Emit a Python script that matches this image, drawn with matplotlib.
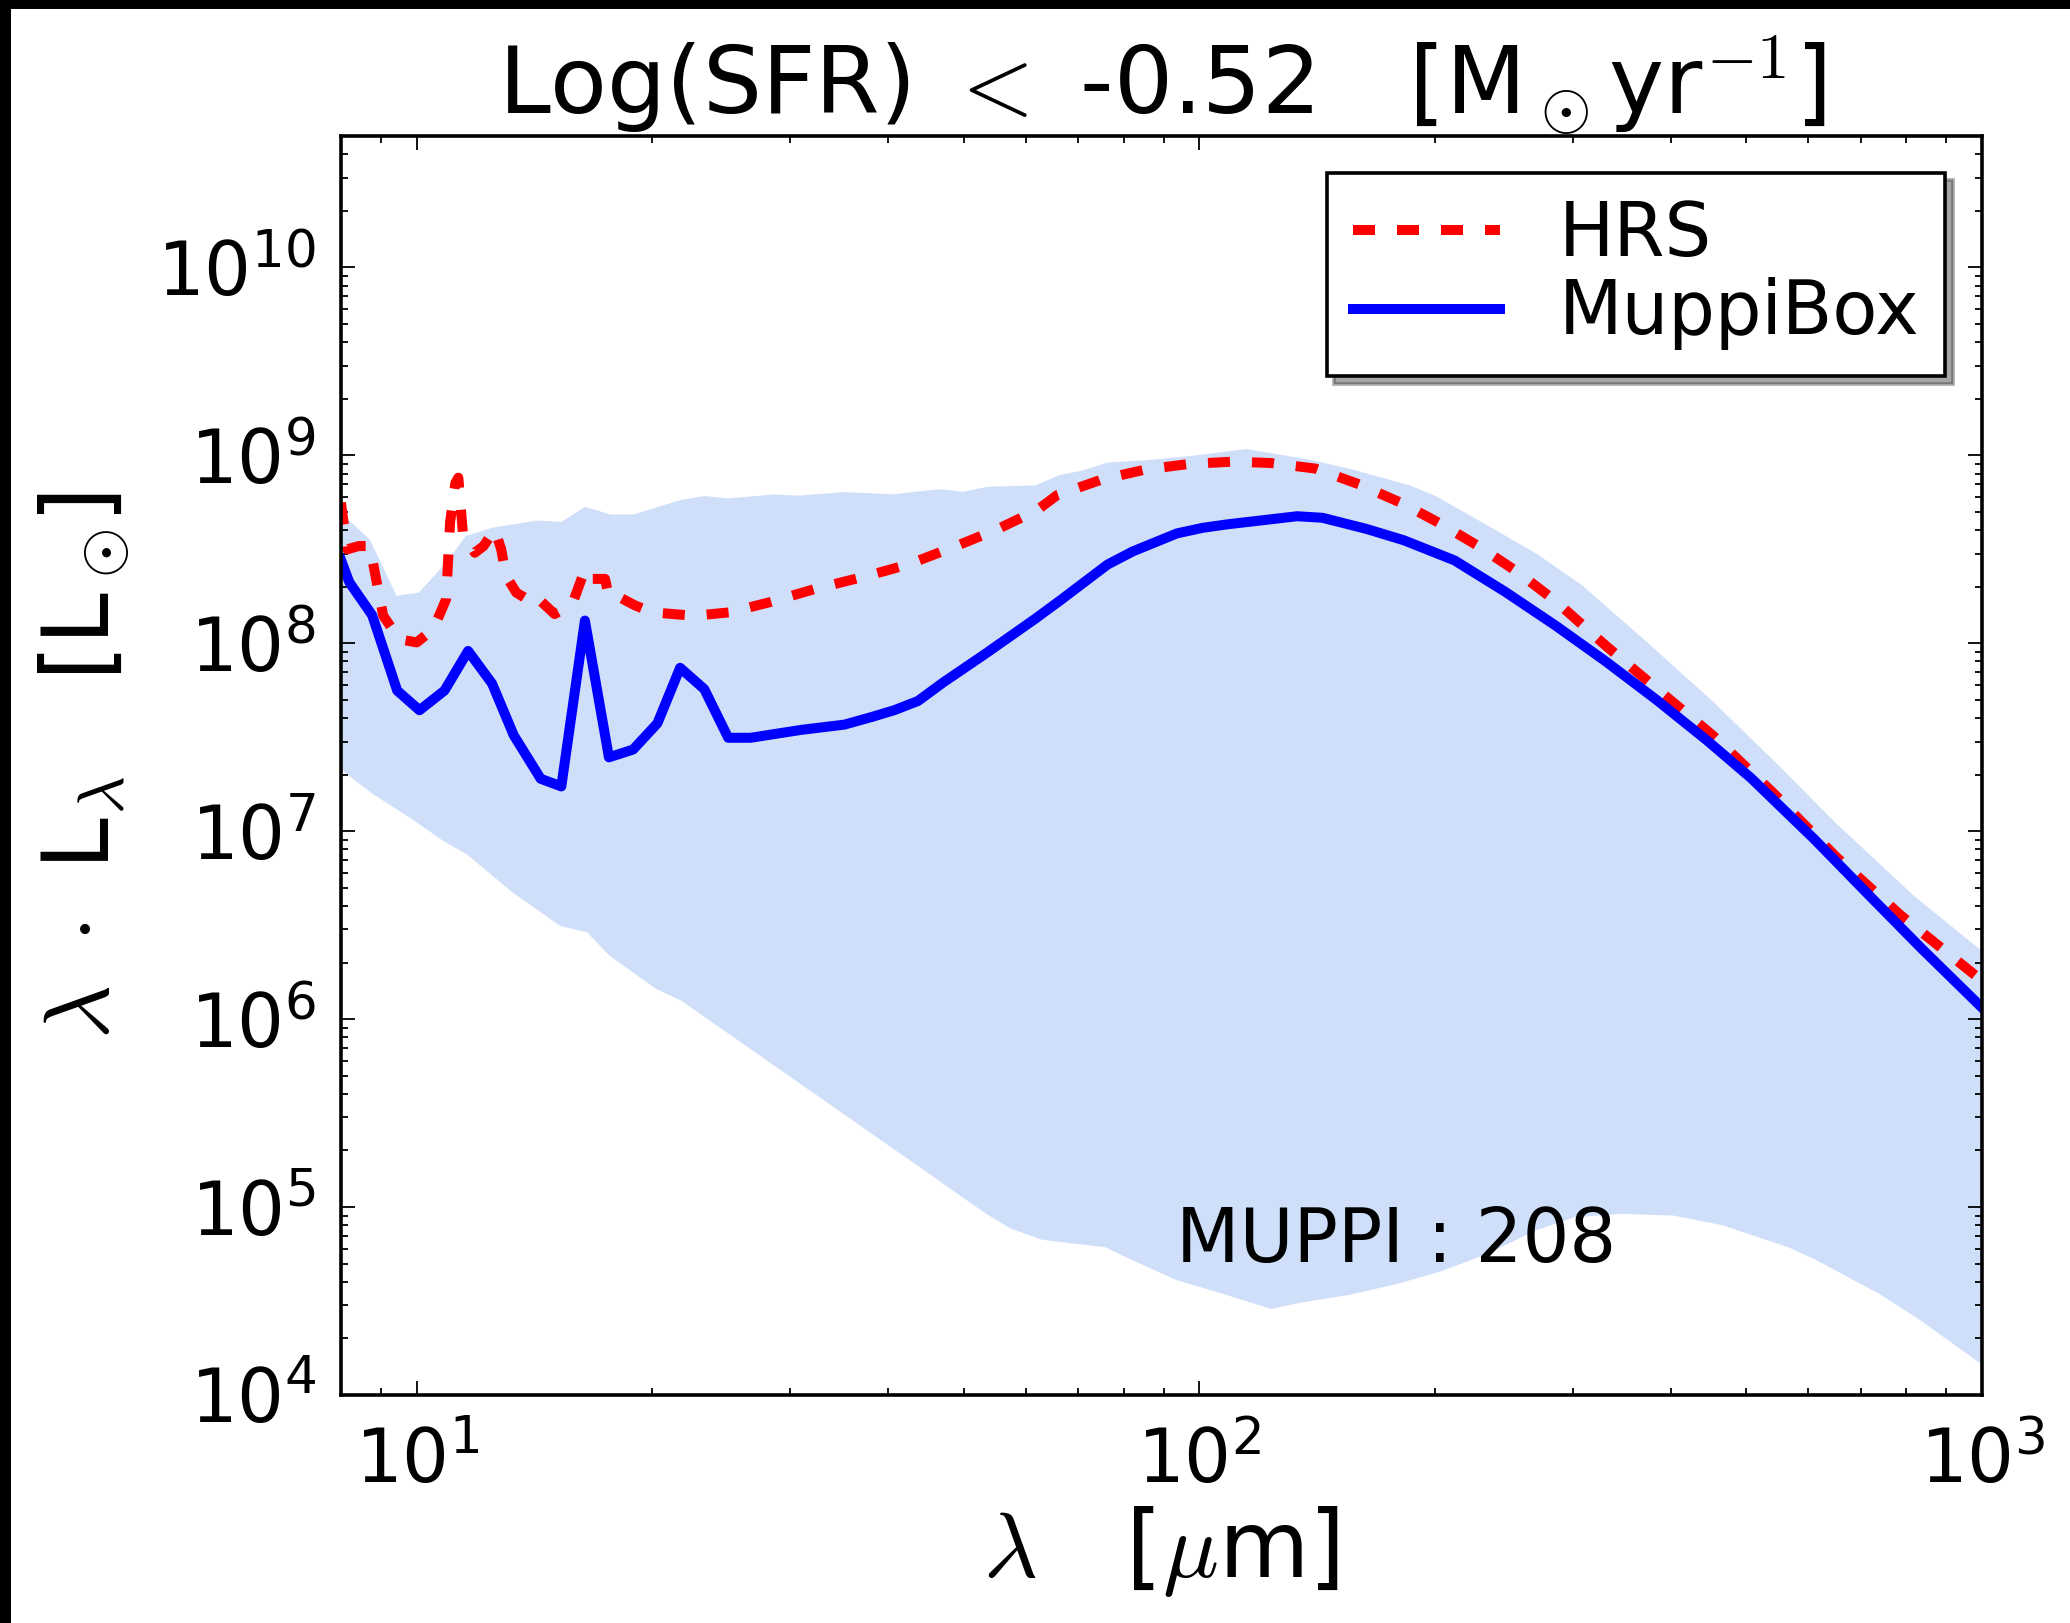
import numpy as np
import matplotlib
matplotlib.use('Agg')
import matplotlib.pyplot as plt
from matplotlib.patches import Rectangle

plt.rcParams['mathtext.fontset'] = 'cm'
plt.rcParams['font.family'] = 'DejaVu Sans'

# HRS mean SED
lam_hrs = [8.0, 8.15, 8.43, 8.71, 8.89, 9.06, 9.5, 10.0, 10.5, 10.9, 11.03, 11.2, 11.3,
           11.45, 11.86, 12.17, 12.58, 12.82, 13.0, 13.4, 13.95, 14.2, 15.0, 15.8, 16.4,
           16.7, 17.4, 17.6, 18.05, 19.0, 20.0, 22.6, 25.1, 28.2, 32.2, 37.6, 42.4, 48.9,
           55.1, 62.0, 65.8, 75.0, 85.2, 97.1, 110.4, 123.3, 140.6, 160.1, 182.5, 204,
           228, 254.7, 285, 330.6, 383.7, 453, 542.5, 651, 787, 1000]
L_hrs = [5.6e8, 3.16e8, 3.29e8, 3.29e8, 2.1e8, 1.4e8, 1.05e8, 1.01e8, 1.19e8, 1.71e8,
         4.4e8, 7.1e8, 7.6e8, 3.9e8, 3.03e8, 3.29e8, 4.03e8, 3.16e8, 2.29e8, 1.86e8,
         1.68e8, 1.77e8, 1.43e8, 1.61e8, 2.47e8, 2.2e8, 2.2e8, 1.77e8, 1.78e8, 1.59e8,
         1.46e8, 1.4e8, 1.46e8, 1.65e8, 1.94e8, 2.28e8, 2.62e8, 3.29e8, 4.03e8, 5.1e8,
         6.14e8, 7.43e8, 8.39e8, 9.0e8, 9.25e8, 9.1e8, 8.5e8, 7.0e8, 5.5e8, 4.29e8,
         3.26e8, 2.4e8, 1.68e8, 9.7e7, 5.75e7, 3.23e7, 1.58e7, 7.3e6, 3.57e6, 1.6e6]

# MuppiBox median SED
lam_mb = [8.0, 8.2, 8.77, 9.44, 10.08, 10.85, 11.63, 12.48, 13.3, 14.4, 15.3, 16.4, 17.6,
          18.9, 20.3, 21.7, 23.3, 25.0, 26.7, 31.0, 35.2, 38.2, 40.8, 43.7, 47.1, 53.3,
          61.7, 66.4, 76.3, 82.2, 93.6, 100.9, 108.5, 133.3, 143.6, 163.4, 182.5, 211.8,
          245.8, 285.3, 330.6, 383.7, 444.8, 506.6, 609.9, 721, 836.5, 1000]
L_mb = [2.78e8, 2.11e8, 1.41e8, 5.6e7, 4.4e7, 5.6e7, 9.1e7, 6.1e7, 3.24e7, 1.9e7, 1.73e7,
        1.32e8, 2.47e7, 2.72e7, 3.75e7, 7.4e7, 5.7e7, 3.14e7, 3.14e7, 3.46e7, 3.69e7,
        4.06e7, 4.41e7, 4.93e7, 6.2e7, 8.8e7, 1.35e8, 1.69e8, 2.62e8, 3.08e8, 3.84e8,
        4.11e8, 4.29e8, 4.74e8, 4.65e8, 4.06e8, 3.53e8, 2.76e8, 1.88e8, 1.24e8, 8.0e7,
        5.0e7, 3.05e7, 1.92e7, 9.1e6, 4.46e6, 2.38e6, 1.15e6]

# MuppiBox spread (upper / lower envelope)
lam_up = [8.0, 8.71, 9.42, 10.06, 10.9, 11.55, 12.5, 14.25, 15.3, 16.4, 17.7, 18.9, 21.7,
          23.3, 25.0, 28.6, 30.7, 35.2, 40.7, 44.1, 46.8, 49.9, 53.6, 61.7, 66.4, 70.9,
          76.3, 85.2, 97.1, 114.7, 138, 157, 186, 200, 228, 269.5, 308, 369.7, 453, 552,
          651, 820, 1000]
L_up = [4.94e8, 3.56e8, 1.79e8, 1.86e8, 2.68e8, 3.72e8, 4.12e8, 4.5e8, 4.42e8, 5.32e8,
        4.84e8, 4.84e8, 5.77e8, 6.07e8, 5.9e8, 6.19e8, 6.1e8, 6.37e8, 6.2e8, 6.45e8,
        6.6e8, 6.4e8, 6.8e8, 6.92e8, 7.86e8, 8.3e8, 9.15e8, 9.4e8, 9.9e8, 1.08e9, 9.5e8,
        8.4e8, 6.9e8, 6.1e8, 4.48e8, 3.0e8, 2.04e8, 1.05e8, 4.9e7, 2.2e7, 1.1e7,
        4.5e6, 2.3e6]
lam_lo = [8.0, 8.78, 9.83, 10.8, 11.6, 13.27, 15.27, 16.5, 17.6, 20.2, 21.8, 27.0, 35.2,
          37.9, 45.7, 53.1, 57.3, 62.9, 75.9, 81.8, 93.3, 108.4, 123.4, 134.8, 155, 179,
          202, 232.6, 269, 301, 345, 404, 466, 566, 615, 740, 835, 1000]
L_lo = [2.13e7, 1.58e7, 1.17e7, 8.9e6, 7.5e6, 4.7e6, 3.12e6, 2.9e6, 2.19e6, 1.45e6,
        1.25e6, 6.7e5, 3.1e5, 2.5e5, 1.45e5, 9.35e4, 7.7e4, 6.7e4, 6.1e4, 5.25e4, 4.1e4,
        3.4e4, 2.87e4, 3.1e4, 3.4e4, 3.9e4, 4.5e4, 5.6e4, 7.5e4, 8.8e4, 9.2e4, 9.0e4,
        8.0e4, 6.1e4, 5.2e4, 3.44e4, 2.49e4, 1.45e4]

n_muppi = 208

fig = plt.figure(figsize=(20.7, 16.23), dpi=100)
ax = fig.add_axes([0.1647, 0.1405, 0.7928, 0.7757])

# shaded spread
ax.fill(np.concatenate([lam_up, lam_lo[::-1]]), np.concatenate([L_up, L_lo[::-1]]),
        color='cornflowerblue', alpha=0.3, lw=0)

ax.plot(lam_hrs, L_hrs, 'r--', lw=7.2, dashes=(2.2, 2.2), label='HRS')
ax.plot(lam_mb, L_mb, 'b-', lw=7.2, label='MuppiBox')

ax.set_xscale('log')
ax.set_yscale('log')
ax.set_xlim(8, 1000)
ax.set_ylim(1e4, 5e10)

for sp in ax.spines.values():
    sp.set_linewidth(2.6)
ax.tick_params(which='both', direction='in', top=True, right=True, width=1.3)
ax.tick_params(which='major', length=10, labelsize=53)
ax.tick_params(axis='x', which='major', pad=22)
ax.tick_params(axis='y', which='major', pad=18)
ax.tick_params(which='minor', length=5)

ax.set_title(r'Log(SFR) $<$ -0.52   [M$_\odot$yr$^{-1}$]', fontsize=67, pad=13)
ax.set_xlabel(r'$\lambda$   [$\mu$m]', fontsize=67, labelpad=4)
ax.set_ylabel(r'$\lambda\ \cdot$ L$_\lambda$   [L$_\odot\!$]', fontsize=67, labelpad=18)

ax.text(178.6, 5.1e4, 'MUPPI : %d' % n_muppi, fontsize=53, ha='center', va='baseline')

leg = ax.legend(loc='upper right', fontsize=53, fancybox=False,
                shadow={'ox': 5.5, 'oy': -5.5}, framealpha=1, edgecolor='k',
                borderpad=0.35, labelspacing=0.08, handlelength=2.0,
                handletextpad=0.8, borderaxespad=0.5)
leg.get_frame().set_linewidth(2.6)

# black strips on left and top edges
fig.add_artist(Rectangle((0, 0), 11 / 2070, 1, transform=fig.transFigure,
                         color='k', lw=0, zorder=10))
fig.add_artist(Rectangle((0, 1 - 9 / 1623), 1, 9 / 1623, transform=fig.transFigure,
                         color='k', lw=0, zorder=10))

fig.savefig('out.png', dpi=100, facecolor='white')
